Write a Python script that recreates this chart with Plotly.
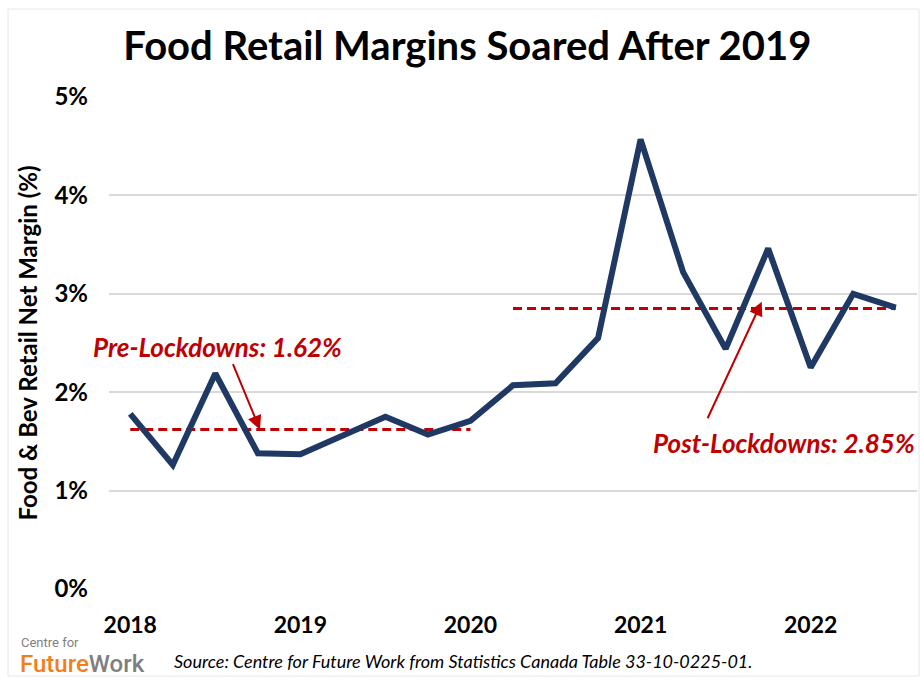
import plotly.graph_objects as go

quarters = list(range(19))
year_ticks = [0, 4, 8, 12, 16]
year_labels = ["2018", "2019", "2020", "2021", "2022"]
net_margin = [1.78, 1.26, 2.19, 1.38, 1.37, 1.56, 1.75, 1.57, 1.71,
              2.07, 2.09, 2.55, 4.57, 3.22, 2.44, 3.46, 2.25, 3.00, 2.86]
pre_avg = 1.62
post_avg = 2.85
pre_idx = quarters[:9]
post_idx = quarters[9:]

FONT = "Lato"
NAVY = "#1F3864"
RED = "#C00000"

fig = go.Figure()
fig.add_trace(go.Scatter(x=pre_idx, y=[pre_avg] * len(pre_idx), mode="lines",
                         line=dict(color=RED, width=3, dash="9px,5px"), hoverinfo="skip"))
fig.add_trace(go.Scatter(x=post_idx, y=[post_avg] * len(post_idx), mode="lines",
                         line=dict(color=RED, width=3, dash="9px,5px"), hoverinfo="skip"))
fig.add_trace(go.Scatter(x=quarters, y=net_margin, mode="lines",
                         line=dict(color=NAVY, width=6, shape="linear"),
                         hoverinfo="x+y"))

fig.update_layout(
    width=920, height=677,
    margin=dict(l=109, r=3, t=97, b=88),
    paper_bgcolor="white", plot_bgcolor="white",
    showlegend=False,
    font=dict(family=FONT, color="black"),
    title=dict(text="<b>Food Retail Margins Soared After 2019</b>",
               x=0.508, xanchor="center", y=0.932, yanchor="middle",
               font=dict(family=FONT, size=40, color="black")),
    xaxis=dict(range=[-0.5, 18.5], tickmode="array", tickvals=year_ticks,
               ticktext=["<b>%s</b>" % t for t in year_labels],
               showgrid=False, zeroline=False, showline=False, ticks="",
               ticklabelstandoff=20,
               tickfont=dict(family=FONT, size=23, color="black")),
    yaxis=dict(range=[0, 5], tickmode="array", tickvals=[0, 1, 2, 3, 4, 5],
               ticktext=["<b>%d%%</b>" % v for v in range(6)],
               showgrid=True, gridcolor="#D9D9D9", gridwidth=1.5,
               zeroline=False, showline=False, ticks="", ticklabelstandoff=20,
               tickfont=dict(family=FONT, size=24, color="black"),
               title=dict(text="<b>Food & Bev Retail Net Margin (%)</b>", standoff=10,
                          font=dict(family=FONT, size=24, color="black"))),
)

fig.add_annotation(x=3.05, y=1.62, ax=2.40, ay=2.30, xref="x", yref="y",
                   axref="x", ayref="y", text="", showarrow=True,
                   arrowhead=2, arrowsize=1.4, arrowwidth=2, arrowcolor=RED)
fig.add_annotation(x=14.85, y=2.92, ax=13.56, ay=1.72, xref="x", yref="y",
                   axref="x", ayref="y", text="", showarrow=True,
                   arrowhead=2, arrowsize=1.4, arrowwidth=2, arrowcolor=RED)
fig.add_annotation(x=2.06, y=2.46, xref="x", yref="y", showarrow=False,
                   text="<b><i>Pre-Lockdowns: 1.62%</i></b>",
                   font=dict(family=FONT, size=26, color=RED))
fig.add_annotation(x=15.37, y=1.48, xref="x", yref="y", showarrow=False,
                   text="<b><i>Post-Lockdowns: 2.85%</i></b>",
                   font=dict(family=FONT, size=26, color=RED))

# source and logo
fig.add_annotation(x=172, y=661, xref="paper", yref="paper", showarrow=False,
                   text="<i>Source: Centre for Future Work from Statistics Canada Table 33-10-0225-01.</i>",
                   xanchor="left", yanchor="middle",
                   font=dict(family=FONT, size=18, color="black"))
fig.add_annotation(x=19, y=642, xref="paper", yref="paper", showarrow=False,
                   text="Centre for", xanchor="left", yanchor="middle",
                   font=dict(family="Roboto", size=13, color="#7F7F7F"))
fig.add_annotation(x=18, y=664, xref="paper", yref="paper", showarrow=False,
                   text="<span style='color:#F07F1E'>Future</span><span style='color:#7F7F7F'>Work</span>",
                   xanchor="left", yanchor="middle",
                   font=dict(family="Roboto", size=24, weight=500))

# convert pixel-positioned annotations to paper coords
W, H = 920, 677
L, R, T, B = 109, 3, 97, 88
pw, ph = W - L - R, H - T - B
for a in fig.layout.annotations:
    if a.xref == "paper":
        px, py = a.x, a.y
        a.x = (px - L) / pw
        a.y = (H - B - py) / ph

fig.add_shape(type="rect", xref="paper", yref="paper",
              x0=(8 - L) / pw, x1=(W - 1 - L) / pw,
              y0=(H - B - (H - 1)) / ph, y1=(H - B - 9) / ph,
              line=dict(color="#E6E6E6", width=1), layer="below")

fig.write_html("out.html")
